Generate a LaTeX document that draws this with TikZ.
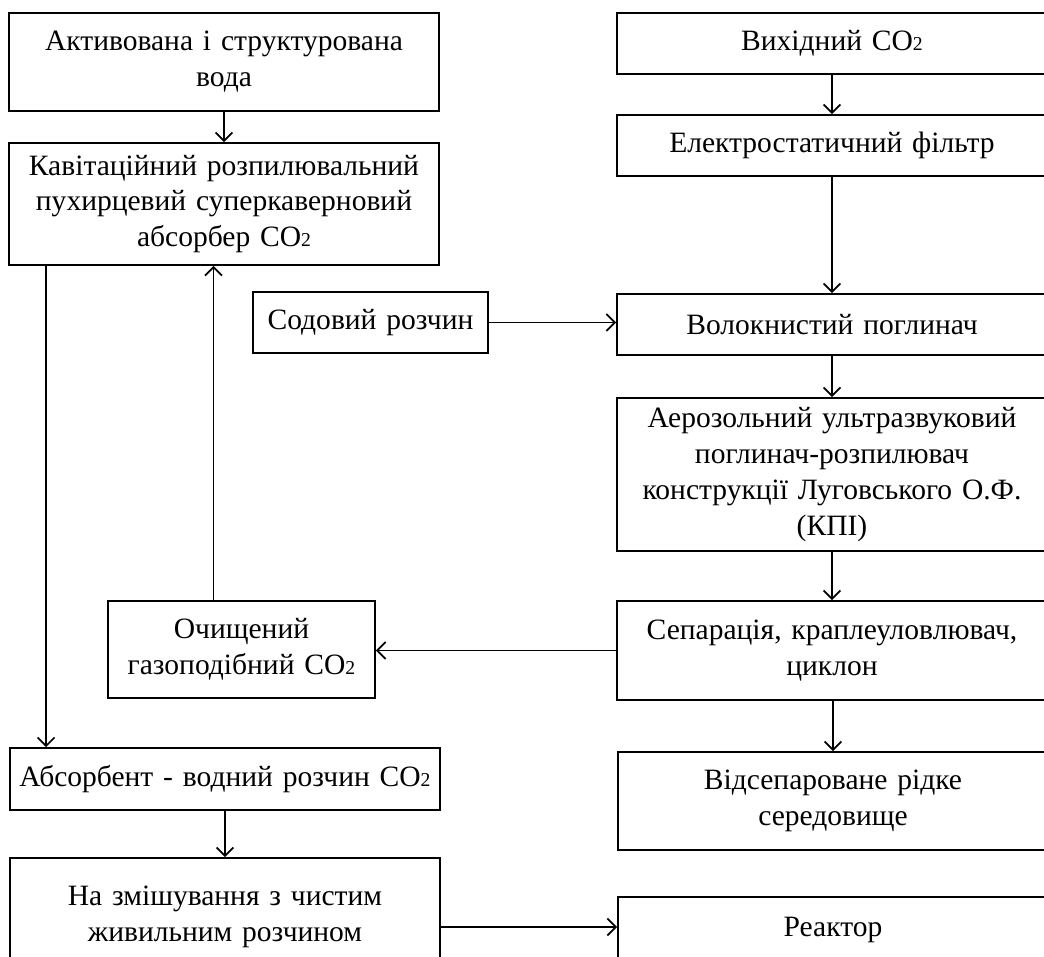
\documentclass[tikz,border=0pt]{standalone}
\usepackage{fontspec}
\setmainfont{Liberation Serif}
\usetikzlibrary{arrows.meta}
\newcommand{\cotwo}{CO{\fontsize{14}{14}\selectfont 2}}
\begin{document}
\begin{tikzpicture}[x=0.025cm, y=-0.025cm,
	blok/.style={rectangle, draw, line width=1.3pt, inner sep=0pt, minimum width=10.75cm, text width=10.5cm, align=center, font=\fontsize{21}{25.5}\selectfont},
	strilka/.style={-{Straight Barb[length=6pt,width=12pt]}, line width=1.2pt}]
	\clip (0,0) rectangle (1044,956);

	% left column
	\node[blok, minimum height=2.45cm] (voda) at (224,62) {Активована і структурована\\вода};
	\node[blok, minimum height=3.05cm] (absorber) at (224,204) {Кавітаційний розпилювальний\\пухирцевий суперкаверновий\\абсорбер \cotwo};
	\node[blok, minimum width=5.875cm, text width=5.6cm, minimum height=1.525cm] (soda) at (370.5,322.5) {Содовий розчин};
	\node[blok, minimum width=6.675cm, text width=6.4cm, minimum height=2.425cm] (chystyi) at (241.5,649.5) {Очищений\\газоподібний \cotwo};
	\node[blok, minimum height=1.55cm] (absorbent) at (225,779) {Абсорбент - водний розчин \cotwo};
	\node[blok, minimum height=2.95cm] (zmish) at (225,917) {На змішування з чистим\\живильним розчином};

	% right column
	\node[blok, minimum height=1.525cm] (vyhid) at (832,43.5) {Вихідний \cotwo};
	\node[blok, minimum height=1.525cm] (filtr) at (832,145.5) {Електростатичний фільтр};
	\node[blok, minimum height=1.525cm] (volokno) at (832,324.5) {Волокнистий поглинач};
	\node[blok, minimum height=3.825cm] (aerozol) at (832,474.5) {Аерозольний ультразвуковий\\поглинач-розпилювач\\конструкції Луговського О.Ф.\\(КПІ)};
	\node[blok, minimum height=2.475cm] (separ) at (832,650.5) {Сепарація, краплеуловлювач,\\циклон};
	\node[blok, minimum height=2.45cm] (ridke) at (833,801) {Відсепароване рідке\\середовище};
	\node[blok, minimum height=2.5cm, text height=0.5cm, text depth=1cm, anchor=north] (reaktor) at (833,896) {Реактор};

	% connections
	\draw[strilka] (voda) -- (absorber);
	\draw[strilka] (vyhid) -- (filtr);
	\draw[strilka] (filtr) -- (volokno);
	\draw[strilka] (soda.east) -- (soda.east -| volokno.west);
	\draw[strilka] (volokno) -- (aerozol);
	\draw[strilka] (aerozol) -- (separ);
	\draw[strilka] (separ.west) -- (separ.west -| chystyi.east);
	\draw[strilka] (separ.south -| ridke.north) -- (ridke);
	\coordinate (c1) at ([xshift=-0.7cm]chystyi.north);
	\draw[strilka] (c1) -- (c1 |- absorber.south);
	\coordinate (c2) at ([xshift=0.95cm]absorber.south west);
	\draw[strilka] (c2) -- (c2 |- absorbent.north);
	\draw[strilka] (absorbent) -- (zmish);
	\coordinate (c3) at ([yshift=-0.25cm]zmish.east);
	\draw[strilka] (c3) -- (c3 -| reaktor.west);
\end{tikzpicture}
\end{document}
